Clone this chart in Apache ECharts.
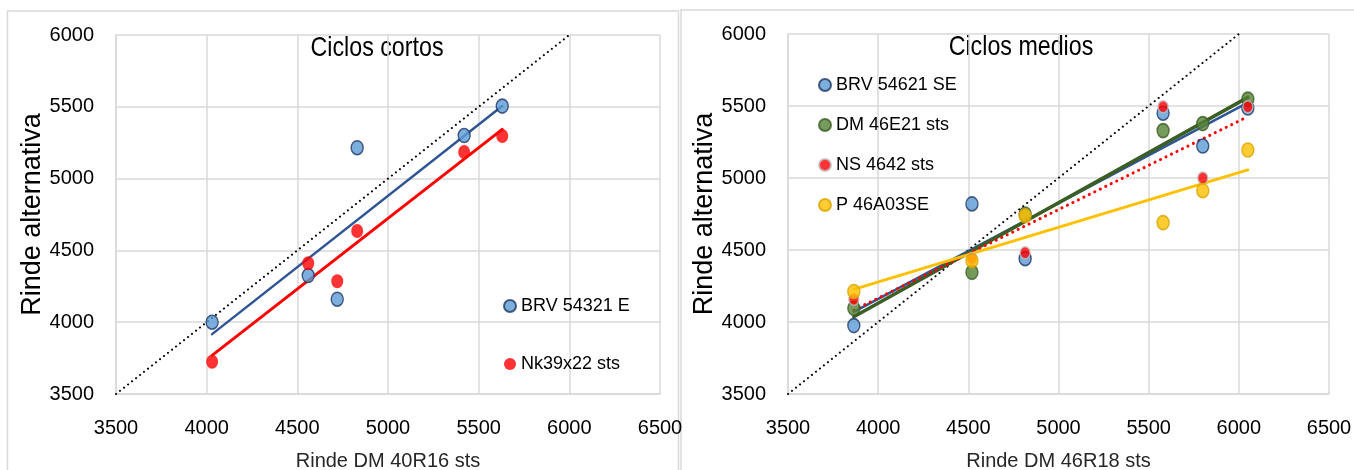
<!DOCTYPE html>
<html>
<head>
<meta charset="utf-8">
<script src="https://cdn.jsdelivr.net/npm/echarts@6/dist/echarts.min.js"></script>
<style>
  html, body { margin: 0; padding: 0; background: #fff; }
  #chart { width: 1354px; height: 470px; }
</style>
</head>
<body>
<div id="chart"></div>
<script>
// #region Data
// Ciclos cortos (x = Rinde DM 40R16 sts)
const shortX = [4030, 4560, 4720, 4830, 5420, 5630];
const brv54321 = [4000, 4325, 4160, 5215, 5300, 5505];
const nk3922 = [3725, 4410, 4285, 4635, 5185, 5297];
const shortTrendX = [4030, 5630];
const brv54321Trend = [3917, 5505];
const nk3922Trend = [3769, 5343];

// Ciclos medios (x = Rinde DM 46R18 sts)
const medX = [3865, 4520, 4815, 5580, 5800, 6050];
const brv54621 = [3975, 4820, 4440, 5450, 5222, 5486];
const dm46e21 = [4095, 4345, 4750, 5329, 5378, 5548];
const ns4642 = [4158, 4440, 4481, 5495, 5000, 5495];
const p46a03 = [4212, 4426, 4738, 4690, 4912, 5194];
const medTrendX = [3865, 6050];
const brv54621Trend = [4071, 5523];
const dm46e21Trend = [4037, 5560];
const ns4642Trend = [4083, 5426];
const p46a03Trend = [4227, 5056];

// 1:1 line
const diagonal = [3500, 6000];

const xTicks = { min: 3500, max: 6500, interval: 500 };
const yTicks = { min: 3500, max: 6000, interval: 500 };
// #endregion

const sans = "'Liberation Sans', Arial, sans-serif";
const gridColor = '#d9d9d9';

const pairs = (xs, ys) => xs.map((x, i) => [x, ys[i]]);

function xAxis(gridIndex, name) {
  return {
    gridIndex, type: 'value', ...xTicks,
    axisLine: { lineStyle: { color: gridColor, width: 1.5 } },
    axisTick: { show: false },
    splitLine: { lineStyle: { color: gridColor, width: 1.5 } },
    axisLabel: { margin: 24, fontSize: 20, fontFamily: sans, color: '#000', formatter: v => String(v) },
    name, nameLocation: 'middle', nameGap: 57,
    nameTextStyle: { fontSize: 20, fontFamily: sans, color: '#262626' }
  };
}

function yAxis(gridIndex) {
  return {
    gridIndex, type: 'value', ...yTicks,
    axisLine: { show: true, lineStyle: { color: gridColor, width: 1.5 } },
    axisTick: { show: false },
    splitLine: { lineStyle: { color: gridColor, width: 1.5 } },
    axisLabel: { margin: 22, fontSize: 20, fontFamily: sans, color: '#000', formatter: v => String(v) },
    name: 'Rinde alternativa', nameLocation: 'middle', nameGap: 68, nameRotate: 90,
    nameTextStyle: { fontSize: 27, fontFamily: sans, color: '#000' }
  };
}

function dots(idx, name, xs, ys, fill, border, size) {
  return {
    type: 'scatter', name, xAxisIndex: idx, yAxisIndex: idx,
    data: pairs(xs, ys), symbol: 'circle', symbolSize: size || [12, 14], z: 5,
    itemStyle: { color: fill, borderColor: border || fill, borderWidth: border ? 1.5 : 0 }
  };
}

function trend(idx, name, xs, ys, color, width, dash) {
  return {
    type: 'line', name, xAxisIndex: idx, yAxisIndex: idx,
    data: pairs(xs, ys), symbol: 'none', silent: true, z: 3,
    lineStyle: { color, width, type: dash || 'solid', cap: 'round' }
  };
}

const chart = echarts.init(document.getElementById('chart'));

const legendText = { fontSize: 18, fontFamily: sans, color: '#000' };

chart.setOption({
  animation: false,
  backgroundColor: '#fff',
  grid: [
    { left: 116, top: 35, width: 544, height: 359, outerBoundsMode: 'none' },
    { left: 788, top: 34, width: 541, height: 360, outerBoundsMode: 'none' }
  ],
  xAxis: [xAxis(0, 'Rinde DM 40R16 sts'), xAxis(1, 'Rinde DM 46R18 sts')],
  yAxis: [yAxis(0), yAxis(1)],
  legend: [
    {
      data: ['BRV 54321 E', 'Nk39x22 sts'], orient: 'vertical',
      left: 498, top: 292, itemWidth: 12, itemHeight: 14, itemGap: 40,
      textStyle: legendText
    },
    {
      data: ['BRV 54621 SE', 'DM 46E21 sts', 'NS 4642 sts', 'P 46A03SE'], orient: 'vertical',
      left: 813, top: 71, itemWidth: 12, itemHeight: 14, itemGap: 22,
      textStyle: legendText
    }
  ],
  graphic: [
    { type: 'rect', shape: { x: 7.5, y: 11, width: 671, height: 500 }, style: { fill: 'none', stroke: gridColor, lineWidth: 1.5 }, z: -10 },
    { type: 'rect', shape: { x: 681, y: 10, width: 700, height: 500 }, style: { fill: 'none', stroke: gridColor, lineWidth: 1.5 }, z: -10 },
    // titles squeezed a bit, the originals use a narrow face
    { type: 'text', x: 377, y: 48, scaleX: 0.83, style: { text: 'Ciclos cortos', font: '28px ' + sans, fill: '#000', textAlign: 'center', textVerticalAlign: 'middle' } },
    { type: 'text', x: 1021, y: 47, scaleX: 0.83, style: { text: 'Ciclos medios', font: '28px ' + sans, fill: '#000', textAlign: 'center', textVerticalAlign: 'middle' } }
  ],
  series: [
    // #region Ciclos cortos
    trend(0, '1:1 cortos', diagonal, diagonal, '#000', 2, [0.1, 5]),
    trend(0, 'tend BRV 54321 E', shortTrendX, brv54321Trend, '#2f5597', 2.5),
    trend(0, 'tend Nk39x22 sts', shortTrendX, nk3922Trend, '#ff0000', 3),
    dots(0, 'BRV 54321 E', shortX, brv54321, '#5b9bd5', '#1f3864'),
    dots(0, 'Nk39x22 sts', shortX, nk3922, '#ff0000'),
    // #endregion

    // #region Ciclos medios
    trend(1, '1:1 medios', diagonal, diagonal, '#000', 2, [0.1, 5]),
    trend(1, 'tend BRV 54621 SE', medTrendX, brv54621Trend, '#2f5597', 2.5),
    trend(1, 'tend DM 46E21 sts', medTrendX, dm46e21Trend, '#3b5e24', 3.5),
    trend(1, 'tend NS 4642 sts', medTrendX, ns4642Trend, '#ff0000', 3, [0.1, 6]),
    trend(1, 'tend P 46A03SE', medTrendX, p46a03Trend, '#ffc000', 3),
    dots(1, 'BRV 54621 SE', medX, brv54621, '#5b9bd5', '#1f3864'),
    dots(1, 'DM 46E21 sts', medX, dm46e21, '#548235', '#3b5e24'),
    dots(1, 'NS 4642 sts', medX, ns4642, '#ff0000', '#bfbfbf', [10, 12]),
    dots(1, 'P 46A03SE', medX, p46a03, '#ffc000', '#d9a400')
    // #endregion
  ]
});
</script>
</body>
</html>
